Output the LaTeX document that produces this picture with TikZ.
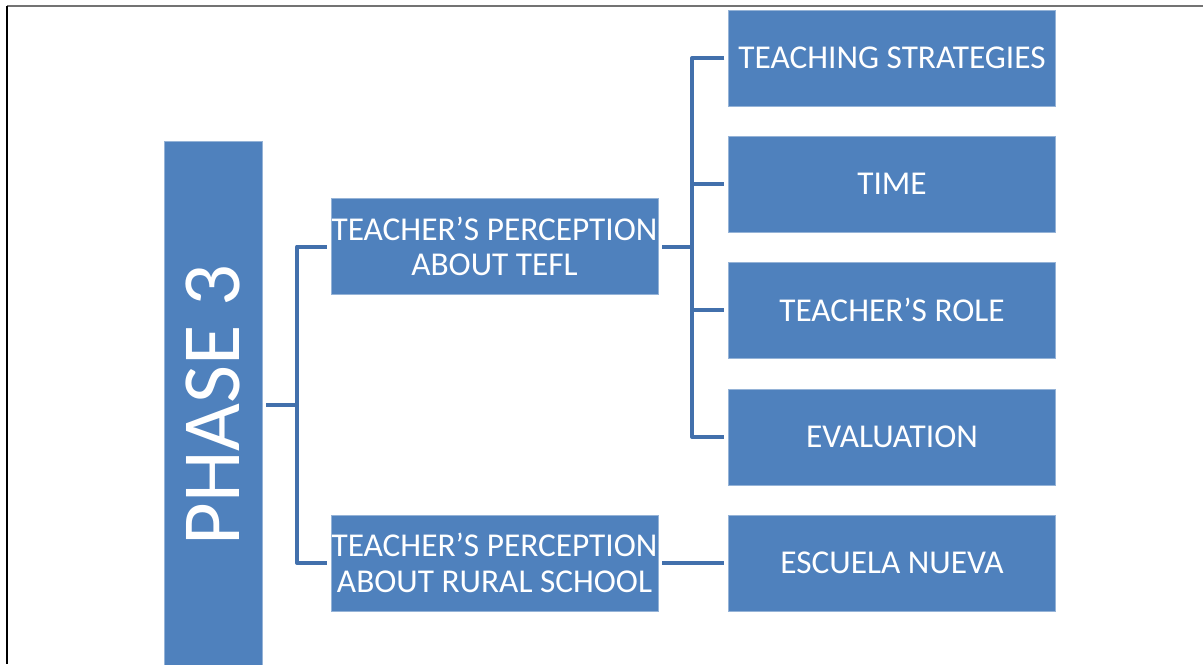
\documentclass[tikz,border=0pt]{standalone}
\usepackage{fontspec}
\setmainfont{Carlito}
\usepackage{xcolor}
\definecolor{box-blue}{RGB}{79,129,189}
\definecolor{line-blue}{RGB}{66,112,172}
\tikzset{
    leaf-box/.style = {fill=box-blue, draw=box-blue!60!white, thin, rectangle, text=white, minimum width=245pt, minimum height=72pt, align=center, inner sep=0pt, font=\fontsize{25}{26.5}\selectfont},
    topic-box/.style = {leaf-box},
    phase-box/.style = {fill=box-blue, draw=box-blue!60!white, thin, rectangle, text=white, minimum width=73.5pt, minimum height=396pt, inner sep=0pt, font=\fontsize{62}{66}\selectfont},
    link-line/.style = {draw=line-blue, line width=3pt, line join=round},
}
\begin{document}
\begin{tikzpicture}[x=0.75pt, y=-0.75pt]
\useasboundingbox (0,0) rectangle (1203,664);
\draw[black!55, line width=1.2pt] (7,6) -- (1203,6);
\draw[black, line width=1.2pt] (7,6) -- (7,664);

\node[phase-box] (phase) at (213,405) {\rotatebox{90}{PHASE 3}};
\node[topic-box] (tefl) at (494.5,246.5) {TEACHER’S PERCEPTION\\ABOUT TEFL};
\node[topic-box] (rural) at (494.5,563) {TEACHER’S PERCEPTION\\ABOUT RURAL SCHOOL};

\node[leaf-box] (strat) at (892,58) {TEACHING STRATEGIES};
\node[leaf-box] (time) at (892,184) {TIME};
\node[leaf-box] (role) at (892,310) {TEACHER’S ROLE};
\node[leaf-box] (eval) at (892,437) {EVALUATION};
\node[leaf-box] (escuela) at (892,563) {ESCUELA NUEVA};

\coordinate (fork-a) at (297,405);
\coordinate (fork-b) at (692,246.5);
\draw[link-line, shorten <=3pt] (phase.east) -- (fork-a);
\draw[link-line, shorten <=3pt, shorten >=3pt] (tefl.west) -| (fork-a) |- (rural.west);
\draw[link-line, shorten <=3pt] (tefl.east) -- (fork-b);
\draw[link-line, shorten <=3pt, shorten >=3pt] (strat.west) -| (fork-b) |- (eval.west);
\foreach \leaf in {time,role}
    \draw[link-line, shorten >=3pt] (fork-b |- \leaf.west) -- (\leaf.west);
\draw[link-line, shorten <=3pt, shorten >=3pt] (rural.east) -- (escuela.west);
\end{tikzpicture}
\end{document}
